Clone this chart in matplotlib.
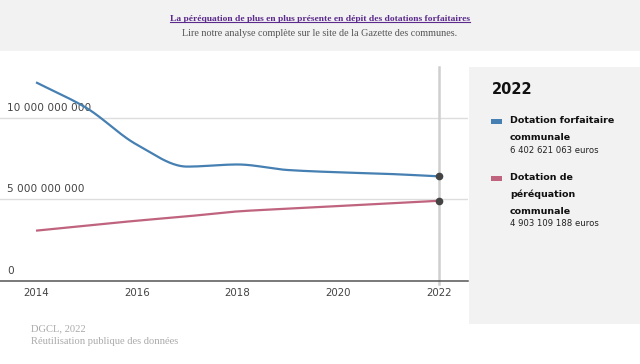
import numpy as np
import matplotlib
matplotlib.use("Agg")
import matplotlib.pyplot as plt
from matplotlib.patches import Rectangle
from matplotlib.lines import Line2D
import matplotlib.transforms as mtransforms

# donnees (en euros)
annees = [2014, 2015, 2016, 2017, 2018, 2019, 2020, 2021, 2022]
forfaitaire = [12.17e9, 10.6e9, 8.35e9, 7.0e9, 7.13e9, 6.79e9, 6.65e9, 6.55e9, 6402621063]
perequation = [3.07e9, 3.38e9, 3.68e9, 3.95e9, 4.25e9, 4.42e9, 4.58e9, 4.74e9, 4903109188]
yticks = [0, 5e9, 10e9]
xticks = [2014, 2016, 2018, 2020, 2022]

bleu = "#4680b2"
rose = "#c0637f"
gris_fond = "#f2f2f2"
serif = "Liberation Serif"


def lissage(x, y, n=300):
    # courbe monotone (Fritsch-Carlson) pour le trace seulement
    x = np.asarray(x, float)
    y = np.asarray(y, float)
    h = np.diff(x)
    d = np.diff(y) / h
    m = np.zeros_like(y)
    m[0], m[-1] = d[0], d[-1]
    for i in range(1, len(y) - 1):
        if d[i - 1] * d[i] <= 0:
            m[i] = 0
        else:
            m[i] = 2 / (1 / d[i - 1] + 1 / d[i])
    xs = np.linspace(x[0], x[-1], n)
    k = np.clip(np.searchsorted(x, xs) - 1, 0, len(x) - 2)
    t = (xs - x[k]) / h[k]
    h00 = 2 * t**3 - 3 * t**2 + 1
    h10 = t**3 - 2 * t**2 + t
    h01 = -2 * t**3 + 3 * t**2
    h11 = t**3 - t**2
    ys = h00 * y[k] + h10 * h[k] * m[k] + h01 * y[k + 1] + h11 * h[k] * m[k + 1]
    return xs, ys


fig = plt.figure(figsize=(6.4, 3.64), dpi=100)
fig.patch.set_facecolor("white")

# bandeau du haut et panneau de droite
fig.patches.append(Rectangle((0, 1 - 51 / 364), 1, 51 / 364, transform=fig.transFigure,
                             facecolor=gris_fond, edgecolor="none", zorder=0))
fig.patches.append(Rectangle((469 / 640, 40 / 364), 171 / 640, 257 / 364, transform=fig.transFigure,
                             facecolor=gris_fond, edgecolor="none", zorder=0))

ax = fig.add_axes([0, 83.3 / 364, 468 / 640, 213.7 / 364])
ax.set_facecolor("none")
ax.set_xlim(2013.285, 2022.576)
ax.set_ylim(0, 13.11e9)
for s in ax.spines.values():
    s.set_visible(False)
ax.set_xticks([])
ax.set_yticks([])

for v in yticks[1:]:
    ax.axhline(v, color="#dddddd", lw=1, zorder=1)
ax.axhline(0, color="#555555", lw=1.1, zorder=3, clip_on=False)
ax.axvline(2022, ymin=-0.017, ymax=1, color="#cfcfcf", lw=1.8, zorder=2, clip_on=False)

offset = mtransforms.ScaledTranslation(0, 10 / 100, fig.dpi_scale_trans)
trans_y = mtransforms.blended_transform_factory(ax.transAxes, ax.transData) + offset
for v in yticks:
    lab = f"{int(v):,}".replace(",", " ")
    ax.text(7 / 468, v, lab, transform=trans_y, ha="left", va="center",
            fontsize=7.6, color="#444444", family="DejaVu Sans")

trans_x = mtransforms.blended_transform_factory(ax.transData, ax.transAxes)
for a in xticks:
    ax.text(a, -12.5 / 213.7, str(a), transform=trans_x, ha="center", va="center",
            fontsize=7.4, color="#444444", clip_on=False)

xs, ys = lissage(annees, forfaitaire)
ax.plot(xs, ys, color=bleu, lw=1.6, zorder=4, solid_capstyle="butt")
xs, ys = lissage(annees, perequation)
ax.plot(xs, ys, color=rose, lw=1.6, zorder=4, solid_capstyle="butt")
ax.plot([annees[-1]] * 2, [forfaitaire[-1], perequation[-1]], "o", color="#444444",
        ms=4.5, zorder=5, clip_on=False)

# titres
titre = fig.text(0.5, 1 - 19 / 364, "La péréquation de plus en plus présente en dépit des dotations forfaitaires",
                 ha="center", va="center", fontsize=6.8, color="#5b2a8c", family=serif,
                 weight="bold")
fig.text(0.5, 1 - 33 / 364, "Lire notre analyse complète sur le site de la Gazette des communes.",
         ha="center", va="center", fontsize=7.3, color="#555555", family=serif)

fig.canvas.draw()
bb = titre.get_window_extent().transformed(fig.transFigure.inverted())
fig.lines.append(Line2D([bb.x0, bb.x1], [bb.y0 + 0.003] * 2, transform=fig.transFigure,
                        color="#5b2a8c", lw=0.8))

# legende
fig.text(492 / 640, 1 - 90 / 364, "2022", ha="left", va="center", fontsize=10.5,
         weight="bold", color="#111111")

series = [
    (bleu, ["Dotation forfaitaire", "communale"], forfaitaire[-1], 121),
    (rose, ["Dotation de", "péréquation", "communale"], perequation[-1], 178),
]
for couleur, lignes, valeur, y0 in series:
    fig.patches.append(Rectangle((491 / 640, 1 - (y0 + 2.5) / 364), 11 / 640, 5 / 364,
                                 transform=fig.transFigure, facecolor=couleur, edgecolor="none"))
    y = y0
    for l in lignes:
        fig.text(510 / 640, 1 - y / 364, l, ha="left", va="center", fontsize=6.8,
                 weight="bold", color="#111111")
        y += 16.5
    txt = f"{int(valeur):,}".replace(",", " ") + " euros"
    fig.text(510 / 640, 1 - (y - 3.5) / 364, txt, ha="left", va="center", fontsize=6.1,
             color="#222222")

# source
fig.text(31 / 640, 1 - 329 / 364, "DGCL, 2022", ha="left", va="center", fontsize=7.6,
         color="#aaaaaa", family=serif)
fig.text(31 / 640, 1 - 342 / 364, "Réutilisation publique des données", ha="left", va="center",
         fontsize=7.6, color="#aaaaaa", family=serif)

fig.savefig("out.png", dpi=100, facecolor=fig.get_facecolor())
